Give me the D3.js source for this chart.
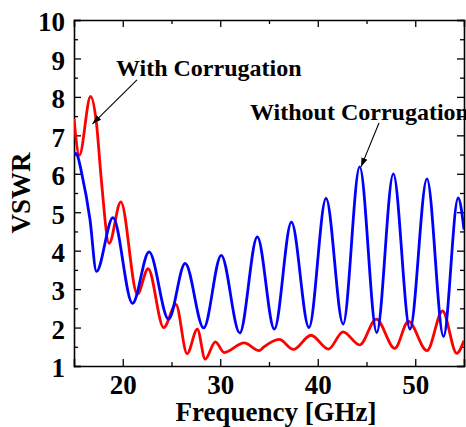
<!DOCTYPE html>
<html>
<head>
<meta charset="utf-8">
<script src="https://cdn.jsdelivr.net/npm/d3@7"></script>
<style>
  html, body { margin: 0; padding: 0; background: #ffffff; }
  svg { display: block; }
  text { font-family: "Liberation Serif", "Times New Roman", serif; font-weight: bold; fill: #000; }
</style>
</head>
<body>
<svg id="chart" width="466" height="427"></svg>
<script>
// ---- Data ----
const xTicks = [20, 30, 40, 50];
const xMinorTicks = [25, 35, 45];
const yTicks = [1, 2, 3, 4, 5, 6, 7, 8, 9, 10];
const yMinorTicks = [1.5, 2.5, 3.5, 4.5, 5.5, 6.5, 7.5, 8.5, 9.5];

// Without Corrugation (blue)
const blueFreq = [15, 15.3, 15.8, 16.64, 17.3, 19.0, 21.0, 22.7, 24.7, 26.4, 28.3, 30.1, 32.0, 33.8, 35.55, 37.3, 39.1, 40.85, 42.6, 44.3, 46.05, 47.75, 49.46, 51.2, 52.9, 54.4, 55];
const blueVSWR = [6.55, 6.5, 6.0, 4.81, 3.46, 4.86, 2.63, 3.97, 2.22, 3.67, 1.99, 3.88, 1.86, 4.36, 1.96, 4.74, 2.0, 5.36, 2.09, 6.18, 1.87, 6.0, 1.96, 5.87, 1.77, 5.37, 4.55];

// With Corrugation (red)
const redFreq = [15, 15.55, 16.7, 17.3, 17.8, 18.6, 19.8, 21.5, 22.6, 24.2, 25.45, 26.6, 27.65, 28.45, 29.5, 30.4, 32.45, 34.0, 34.4, 36.05, 37.5, 39.3, 41.1, 42.6, 44.3, 46.0, 47.9, 49.3, 51.2, 52.8, 54.25, 55];
const redVSWR = [7.43, 6.48, 8.01, 7.32, 5.85, 4.19, 5.27, 2.87, 3.53, 2.0, 2.6, 1.32, 1.96, 1.18, 1.63, 1.35, 1.6, 1.4, 1.48, 1.69, 1.43, 1.8, 1.44, 1.89, 1.55, 2.22, 1.46, 2.16, 1.4, 2.43, 1.33, 1.66];

const xLabel = "Frequency [GHz]";
const yLabel = "VSWR";

// annotation anchors in data units
const annotations = [
  { text: "With Corrugation", tx: 19.3, ty: 8.55, ax1: 21.46, ay1: 8.44, ax2: 16.9, ay2: 7.30 },
  { text: "Without Corrugation", tx: 33.05, ty: 7.40, ax1: 46.28, ay1: 7.32, ax2: 44.44, ay2: 6.18 }
];

// ---- Layout ----
const svg = d3.select("#chart");
const mLeft = 74, mRight = 464, mTop = 20, mBottom = 366;

const x = d3.scaleLinear().domain([15, 55]).range([mLeft, mRight]);
const y = d3.scaleLinear().domain([1, 10]).range([mBottom, mTop]);

svg.append("rect").attr("width", 466).attr("height", 427).attr("fill", "#fff");

const defs = svg.append("defs");
defs.append("clipPath").attr("id", "clip")
  .append("rect").attr("x", mLeft).attr("y", mTop).attr("width", mRight - mLeft).attr("height", mBottom - mTop);

const fontSize = 27;
const major = 7, minor = 4;

function styleAxis(g, withText) {
  g.select(".domain").attr("stroke", "#000").attr("stroke-width", 1.6);
  g.selectAll(".tick line").attr("stroke", "#000").attr("stroke-width", 1.3);
  g.selectAll(".tick text").attr("font-size", fontSize)
    .attr("font-family", '"Liberation Serif", "Times New Roman", serif')
    .attr("font-weight", "bold").attr("fill", "#000");
  if (!withText) g.selectAll(".tick text").remove();
}

// Bottom
const gb = svg.append("g").attr("transform", `translate(0,${mBottom})`)
  .call(d3.axisBottom(x).tickValues(xTicks).tickSize(-major).tickPadding(8).tickFormat(d3.format("d")));
styleAxis(gb, true);
gb.selectAll(".tick text").attr("y", 8).attr("dy", "0.74em");
const gbm = svg.append("g").attr("transform", `translate(0,${mBottom})`)
  .call(d3.axisBottom(x).tickValues(xMinorTicks).tickSize(-minor).tickFormat(""));
styleAxis(gbm, false); gbm.select(".domain").remove();

// Top
const gt = svg.append("g").attr("transform", `translate(0,${mTop})`)
  .call(d3.axisTop(x).tickValues(xTicks).tickSize(-major).tickFormat(""));
styleAxis(gt, false);
const gtm = svg.append("g").attr("transform", `translate(0,${mTop})`)
  .call(d3.axisTop(x).tickValues(xMinorTicks).tickSize(-minor).tickFormat(""));
styleAxis(gtm, false); gtm.select(".domain").remove();

// Left
const gl = svg.append("g").attr("transform", `translate(${mLeft},0)`)
  .call(d3.axisLeft(y).tickValues(yTicks).tickSize(-major).tickPadding(9).tickFormat(d3.format("d")));
styleAxis(gl, true);
gl.selectAll(".tick text").attr("dy", "0.40em");
const glm = svg.append("g").attr("transform", `translate(${mLeft},0)`)
  .call(d3.axisLeft(y).tickValues(yMinorTicks).tickSize(-minor).tickFormat(""));
styleAxis(glm, false); glm.select(".domain").remove();

// Right
const gr = svg.append("g").attr("transform", `translate(${mRight},0)`)
  .call(d3.axisRight(y).tickValues(yTicks).tickSize(-major).tickFormat(""));
styleAxis(gr, false);
const grm = svg.append("g").attr("transform", `translate(${mRight},0)`)
  .call(d3.axisRight(y).tickValues(yMinorTicks).tickSize(-minor).tickFormat(""));
styleAxis(grm, false); grm.select(".domain").remove();

// ---- Curves ----
const line = d3.line().x(d => x(d[0])).y(d => y(d[1])).curve(d3.curveMonotoneX);
const plot = svg.append("g").attr("clip-path", "url(#clip)");
plot.append("path").datum(d3.zip(redFreq, redVSWR))
  .attr("d", line).attr("fill", "none").attr("stroke", "#ff0000").attr("stroke-width", 2.8);
plot.append("path").datum(d3.zip(blueFreq, blueVSWR))
  .attr("d", line).attr("fill", "none").attr("stroke", "#0000ff").attr("stroke-width", 2.8);

// ---- Annotations ----
defs.append("marker")
  .attr("id", "arrow").attr("viewBox", "0 0 10 10").attr("refX", 10).attr("refY", 5)
  .attr("markerWidth", 9).attr("markerHeight", 9).attr("markerUnits", "userSpaceOnUse")
  .attr("orient", "auto")
  .append("path").attr("d", "M0,1.5 L10,5 L0,8.5 Z").attr("fill", "#000");

annotations.forEach(a => {
  svg.append("text").attr("x", x(a.tx)).attr("y", y(a.ty))
    .attr("font-size", 24).text(a.text);
  svg.append("line")
    .attr("x1", x(a.ax1)).attr("y1", y(a.ay1)).attr("x2", x(a.ax2)).attr("y2", y(a.ay2))
    .attr("stroke", "#000").attr("stroke-width", 1.1).attr("marker-end", "url(#arrow)");
});

// ---- Axis titles ----
svg.append("text").attr("x", (mLeft + mRight) / 2 + 7).attr("y", 421)
  .attr("text-anchor", "middle").attr("font-size", 27).text(xLabel);
svg.append("text").attr("transform", `translate(30,${(mTop + mBottom) / 2})rotate(-90)`)
  .attr("text-anchor", "middle").attr("font-size", 27).text(yLabel);
</script>
</body>
</html>
